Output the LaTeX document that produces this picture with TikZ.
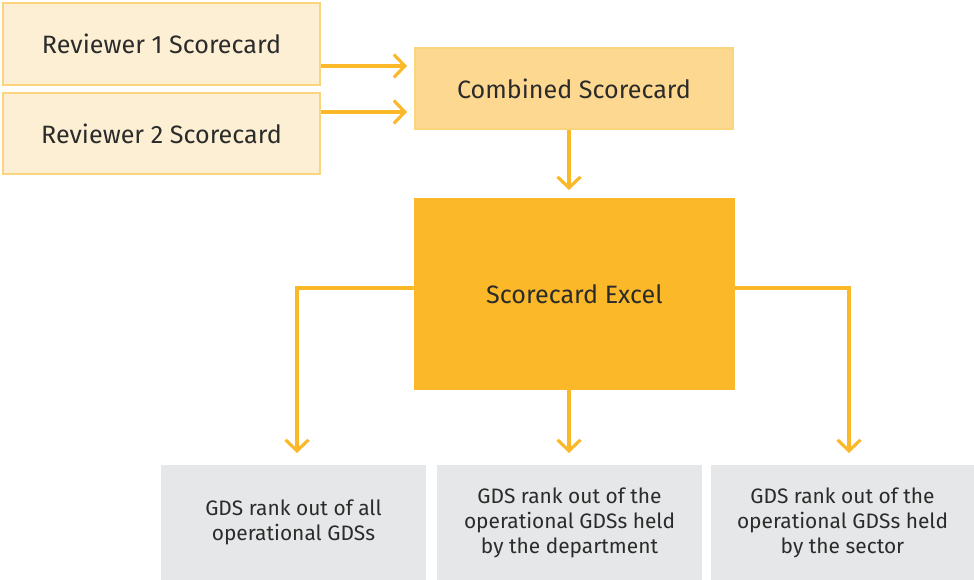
\documentclass[tikz,border=0pt]{standalone}
\usepackage{fontspec}
\setmainfont{Fira Sans}
\usepackage{tikz}
\usetikzlibrary{arrows.meta}

\definecolor{scoreorange}{HTML}{FBB829}
\definecolor{scorelight}{HTML}{FDEFD4}
\definecolor{scoremid}{HTML}{FDD890}
\definecolor{scoreline}{HTML}{FBD57E}
\definecolor{rankgray}{HTML}{E6E7E8}
\definecolor{inktext}{HTML}{2B2B2B}

\tikzset{
  sheet/.style={draw=scoreline, line width=0.8pt, inner sep=0pt, text=inktext,
    font=\fontsize{14.3}{17}\selectfont},
  rankbox/.style={fill=rankgray, inner sep=0pt, text=inktext, align=center,
    minimum width=5.3cm, minimum height=2.3cm,
    font=\fontsize{11.9}{14.2}\selectfont},
  flow/.style={draw=scoreorange, line width=1.8pt,
    -{Straight Barb[length=0.22cm,width=0.46cm,line width=1.8pt]}}
}

\begin{document}
\begin{tikzpicture}[x=0.02cm,y=-0.02cm]
      \useasboundingbox (0,0) rectangle (974,580);
      % scorecards
      \node[sheet, fill=scorelight, minimum width=6.34cm, minimum height=1.64cm] (rev1) at (161.5,44) {Reviewer 1 Scorecard};
      \node[sheet, fill=scorelight, minimum width=6.34cm, minimum height=1.62cm] (rev2) at (161.5,133.5) {Reviewer 2 Scorecard};
      \node[sheet, fill=scoremid, minimum width=6.36cm, minimum height=1.62cm] (comb) at (574,88.5) {Combined Scorecard};
      \node[sheet, fill=scoreorange, draw=scoreorange, minimum width=6.38cm, minimum height=3.8cm] (excel) at (574.5,294) {Scorecard Excel};
      % ranks
      \node[rankbox] (all) at (293.5,522.5) {GDS rank out of all\\operational GDSs};
      \node[rankbox] (dept) at (569.5,522.5) {GDS rank out of the\\operational GDSs held\\by the department};
      \node[rankbox, minimum width=5.26cm] (sect) at (842.5,522.5) {GDS rank out of the\\operational GDSs held\\by the sector};
      % arrow ends
      \coordinate (in1) at (407,66);
      \coordinate (in2) at (407,112);
      \coordinate (excelin) at (569,190);
      \coordinate (leftout) at (415,288);
      \coordinate (rightout) at (734,288);
      \coordinate (allin) at (297,453);
      \coordinate (deptin) at (569,453);
      \coordinate (sectin) at (849,453);
      \draw[flow] (in1 -| rev1.east) -- (in1);
      \draw[flow] (in2 -| rev2.east) -- (in2);
      \draw[flow] (excelin |- comb.south) -- (excelin);
      \draw[flow] (leftout) -| (allin);
      \draw[flow] (deptin |- excel.south) -- (deptin);
      \draw[flow] (rightout) -| (sectin);
    \end{tikzpicture}
\end{document}
